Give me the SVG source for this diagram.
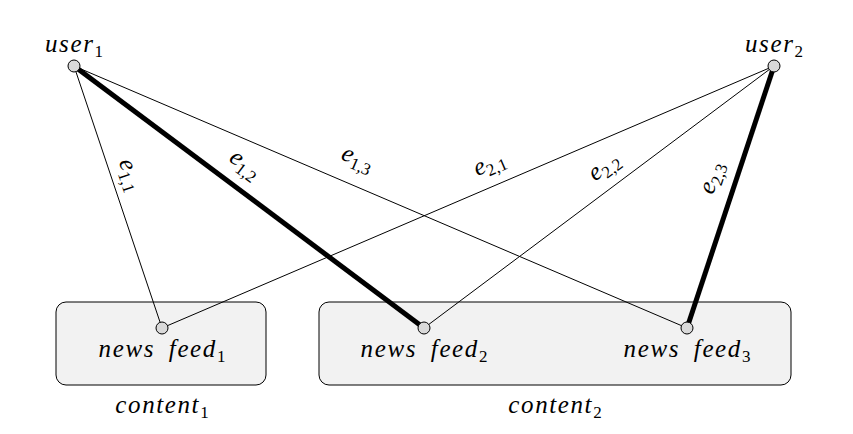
<svg xmlns="http://www.w3.org/2000/svg" width="853" height="434" viewBox="0 0 853 434">
<style>
.t{font-family:"Liberation Serif",serif;font-style:italic;font-size:25px;letter-spacing:1.6px;word-spacing:6px;fill:#000}
.s{font-size:17px;font-style:normal;letter-spacing:0}
.e{font-family:"Liberation Serif",serif;font-style:italic;font-size:25px;fill:#000}
.box{fill:#f2f2f2;stroke:#000;stroke-width:1}
.n{fill:#d9d9d9;stroke:#000;stroke-width:1}
.thin{stroke:#000;stroke-width:1}
.thick{stroke:#000;stroke-width:5}
</style>
<rect width="853" height="434" fill="#fff"/>
<g id="content1"><rect class="box" x="56" y="302" width="210" height="83" rx="10"/>
<text class="t" x="162" y="413" text-anchor="middle">content<tspan class="s" dy="5">1</tspan></text></g>
<g id="content2"><rect class="box" x="319" y="302" width="472" height="83" rx="10"/>
<text class="t" x="555" y="413" text-anchor="middle">content<tspan class="s" dy="5">2</tspan></text></g>
<g id="connectors">
<line class="thin" x1="74" y1="66" x2="162" y2="328"/>
<line class="thick" x1="74" y1="66" x2="424" y2="328"/>
<line class="thin" x1="74" y1="66" x2="687" y2="328"/>
<line class="thin" x1="774" y1="66" x2="162" y2="328"/>
<line class="thin" x1="774" y1="66" x2="424" y2="328"/>
<line class="thick" x1="774" y1="66" x2="687" y2="328"/>
<text class="e" transform="translate(124,177) rotate(71.4)" text-anchor="middle">e<tspan class="s" dy="5">1,1</tspan></text>
<text class="e" transform="translate(241,170) rotate(36.8)" text-anchor="middle">e<tspan class="s" dy="5">1,2</tspan></text>
<text class="e" transform="translate(355,165) rotate(23.1)" text-anchor="middle">e<tspan class="s" dy="5">1,3</tspan></text>
<text class="e" transform="translate(492,170) rotate(-23.2)" text-anchor="middle">e<tspan class="s" dy="5">2,1</tspan></text>
<text class="e" transform="translate(608,172) rotate(-36.8)" text-anchor="middle">e<tspan class="s" dy="5">2,2</tspan></text>
<text class="e" transform="translate(718,180) rotate(-71.6)" text-anchor="middle">e<tspan class="s" dy="5">2,3</tspan></text>
</g>
<g id="user1"><circle class="n" cx="74" cy="66" r="6"/><text class="t" x="74" y="52" text-anchor="middle">user<tspan class="s" dy="5">1</tspan></text></g>
<g id="user2"><circle class="n" cx="774" cy="66" r="6"/><text class="t" x="774" y="52" text-anchor="middle">user<tspan class="s" dy="5">2</tspan></text></g>
<g id="nf1"><circle class="n" cx="162" cy="328" r="6"/><text class="t" x="162" y="357" text-anchor="middle">news feed<tspan class="s" dy="5">1</tspan></text></g>
<g id="nf2"><circle class="n" cx="424" cy="328" r="6"/><text class="t" x="424" y="357" text-anchor="middle">news feed<tspan class="s" dy="5">2</tspan></text></g>
<g id="nf3"><circle class="n" cx="687" cy="328" r="6"/><text class="t" x="687" y="357" text-anchor="middle">news feed<tspan class="s" dy="5">3</tspan></text></g>
</svg>
